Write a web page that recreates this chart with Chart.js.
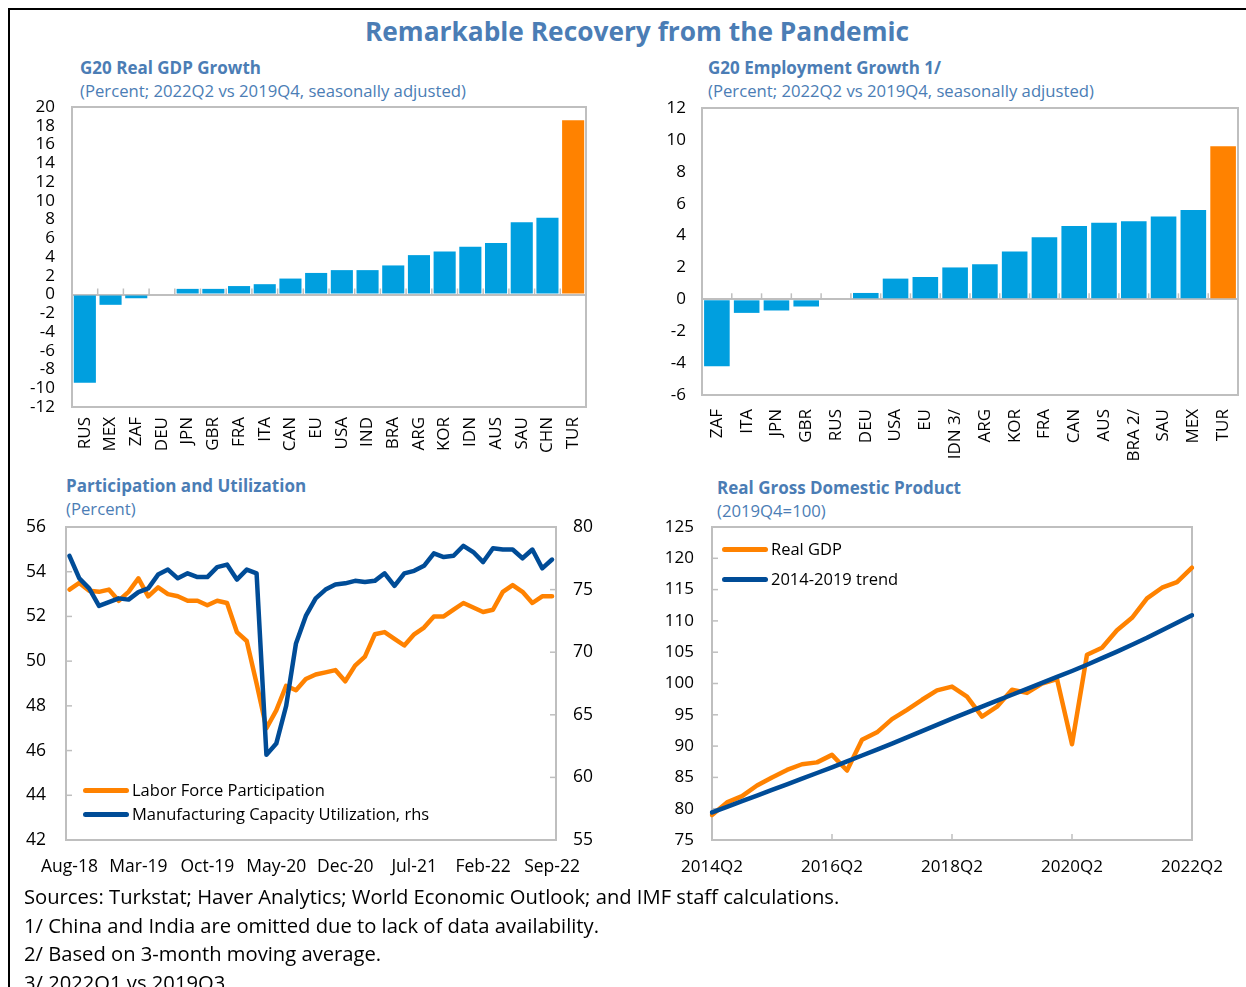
<!DOCTYPE html>
<html>
<head>
<meta charset="utf-8">
<script src="https://cdn.jsdelivr.net/npm/chart.js@4.4.0/dist/chart.umd.min.js"></script>
<style>
  body { margin: 0; width: 1246px; height: 987px; overflow: hidden; background: #fff; position: relative; font-family: "Open Sans", sans-serif; }
  .frame { position: absolute; left: 8px; top: 8px; width: 1270px; height: 1010px; border: 2px solid #000; box-sizing: border-box; }
  .txt { position: absolute; white-space: nowrap; color: #4b7db5; }
  .main { left: 0; width: 1274px; top: 12px; text-align: center; font-size: 26.3px; font-weight: 700; line-height: 38px; }
  .head { font-size: 17px; font-weight: 700; line-height: 22px; }
  .sub { font-size: 16.7px; line-height: 22px; }
  .box { position: absolute; }
  .legend { position: absolute; font-size: 16.5px; color: #000; line-height: 24px; }
  .legend div { display: flex; align-items: center; }
  .legend span.sw { display: inline-block; width: 46px; height: 5px; border-radius: 3px; margin-right: 3px; }
  .notes { position: absolute; left: 24px; top: 882px; font-size: 20.2px; line-height: 28.6px; color: #000; }
</style>
</head>
<body>
<div class="frame"></div>
<div class="txt main">Remarkable Recovery from the Pandemic</div>

<div class="txt head" style="left:80px; top:57px;">G20 Real GDP Growth</div>
<div class="txt sub" style="left:80px; top:80px;">(Percent; 2022Q2 vs 2019Q4, seasonally adjusted)</div>
<div class="txt head" style="left:708px; top:57px;">G20 Employment Growth 1/</div>
<div class="txt sub" style="left:708px; top:80px;">(Percent; 2022Q2 vs 2019Q4, seasonally adjusted)</div>
<div class="txt head" style="left:66px; top:475px;">Participation and Utilization</div>
<div class="txt sub" style="left:66px; top:498px;">(Percent)</div>
<div class="txt head" style="left:717px; top:477px;">Real Gross Domestic Product</div>
<div class="txt sub" style="left:717px; top:500px;">(2019Q4=100)</div>

<div class="box" style="left:20px; top:95px; width:580px; height:370px;"><canvas id="gdpBars"></canvas></div>
<div class="box" style="left:650px; top:95px; width:596px; height:370px;"><canvas id="empBars"></canvas></div>
<div class="box" style="left:10px; top:515px; width:600px; height:370px;"><canvas id="partLines"></canvas></div>
<div class="box" style="left:650px; top:515px; width:596px; height:370px;"><canvas id="gdpLines"></canvas></div>

<div class="legend" style="left:83px; top:778px;">
  <div><span class="sw" style="background:#ff8200"></span>Labor Force Participation</div>
  <div><span class="sw" style="background:#004c97"></span>Manufacturing Capacity Utilization, rhs</div>
</div>
<div class="legend" style="left:722px; top:534px; line-height:30px;">
  <div><span class="sw" style="background:#ff8200"></span>Real GDP</div>
  <div><span class="sw" style="background:#004c97"></span>2014-2019 trend</div>
</div>

<div class="notes">
  Sources: Turkstat; Haver Analytics; World Economic Outlook; and IMF staff calculations.<br>
  1/ China and India are omitted due to lack of data availability.<br>
  2/ Based on 3-month moving average.<br>
  3/ 2022Q1 vs 2019Q3.
</div>

<script>
const BLUE = "#009fdf";
const ORANGE = "#ff8200";
const NAVY = "#004c97";
const FRAME = "#bfbfbf";

// G20 real GDP growth, 2022Q2 vs 2019Q4
const gdpCountries = ["RUS", "MEX", "ZAF", "DEU", "JPN", "GBR", "FRA", "ITA", "CAN", "EU", "USA", "IND", "BRA", "ARG", "KOR", "IDN", "AUS", "SAU", "CHN", "TUR"];
const gdpGrowth = [-9.4, -1.1, -0.4, 0, 0.6, 0.6, 0.9, 1.1, 1.7, 2.3, 2.6, 2.6, 3.1, 4.2, 4.6, 5.1, 5.5, 7.7, 8.2, 18.6];

// G20 employment growth
const empCountries = ["ZAF", "ITA", "JPN", "GBR", "RUS", "DEU", "USA", "EU", "IDN 3/", "ARG", "KOR", "FRA", "CAN", "AUS", "BRA 2/", "SAU", "MEX", "TUR"];
const empGrowth = [-4.2, -0.85, -0.7, -0.45, 0, 0.4, 1.3, 1.4, 2.0, 2.2, 3.0, 3.9, 4.6, 4.8, 4.9, 5.2, 5.6, 9.6];

// monthly, Aug-18 .. Sep-22
const months = [
  "Aug-18", "Sep-18", "Oct-18", "Nov-18", "Dec-18",
  "Jan-19", "Feb-19", "Mar-19", "Apr-19", "May-19", "Jun-19", "Jul-19", "Aug-19", "Sep-19", "Oct-19", "Nov-19", "Dec-19",
  "Jan-20", "Feb-20", "Mar-20", "Apr-20", "May-20", "Jun-20", "Jul-20", "Aug-20", "Sep-20", "Oct-20", "Nov-20", "Dec-20",
  "Jan-21", "Feb-21", "Mar-21", "Apr-21", "May-21", "Jun-21", "Jul-21", "Aug-21", "Sep-21", "Oct-21", "Nov-21", "Dec-21",
  "Jan-22", "Feb-22", "Mar-22", "Apr-22", "May-22", "Jun-22", "Jul-22", "Aug-22", "Sep-22"
];
const laborForce = [53.2, 53.5, 53.15, 53.1, 53.2, 52.7, 53.1, 53.7, 52.9, 53.3, 53.0, 52.9, 52.7, 52.7, 52.5, 52.7, 52.6, 51.3, 50.9, 49.0, 47.0, 47.8, 48.9, 48.7, 49.2, 49.4, 49.5, 49.6, 49.1, 49.8, 50.2, 51.2, 51.3, 51.0, 50.7, 51.2, 51.5, 52.0, 52.0, 52.3, 52.6, 52.4, 52.2, 52.3, 53.1, 53.4, 53.1, 52.6, 52.9, 52.9];
const capacityUtil = [77.7, 75.9, 75.1, 73.7, 74.0, 74.3, 74.2, 74.8, 75.1, 76.2, 76.6, 75.9, 76.3, 76.0, 76.0, 76.8, 77.0, 75.8, 76.6, 76.3, 61.8, 62.7, 65.7, 70.7, 72.9, 74.3, 75.0, 75.4, 75.5, 75.7, 75.6, 75.7, 76.3, 75.3, 76.3, 76.5, 76.9, 77.9, 77.6, 77.7, 78.5, 78.0, 77.2, 78.3, 78.2, 78.2, 77.5, 78.2, 76.7, 77.4];

// quarterly, 2014Q2 .. 2022Q2 (2019Q4 = 100)
const quarters = [
  "2014Q2", "2014Q3", "2014Q4", "2015Q1", "2015Q2", "2015Q3", "2015Q4", "2016Q1", "2016Q2", "2016Q3", "2016Q4",
  "2017Q1", "2017Q2", "2017Q3", "2017Q4", "2018Q1", "2018Q2", "2018Q3", "2018Q4", "2019Q1", "2019Q2", "2019Q3", "2019Q4",
  "2020Q1", "2020Q2", "2020Q3", "2020Q4", "2021Q1", "2021Q2", "2021Q3", "2021Q4", "2022Q1", "2022Q2"
];
const realGdp = [79.0, 81.0, 82.0, 83.7, 85.0, 86.2, 87.1, 87.4, 88.6, 86.1, 91.0, 92.2, 94.3, 95.8, 97.4, 98.9, 99.5, 97.9, 94.7, 96.3, 99.0, 98.5, 100.0, 100.7, 90.3, 104.6, 105.7, 108.5, 110.5, 113.6, 115.3, 116.2, 118.5];
const gdpTrend = [79.4, 80.3, 81.2, 82.1, 83.0, 83.9, 84.8, 85.7, 86.6, 87.55, 88.5, 89.45, 90.4, 91.4, 92.4, 93.4, 94.4, 95.35, 96.3, 97.25, 98.2, 99.15, 100.1, 101.05, 102.0, 103.0, 104.05, 105.1, 106.2, 107.3, 108.5, 109.7, 110.9];

Chart.defaults.font.family = '"Open Sans", sans-serif';
Chart.defaults.font.size = 17;
Chart.defaults.color = "#000";
Chart.defaults.animation = false;

// keep label overhang from pushing the plot area around
const noOverhang = (s) => {
  s.paddingTop = 0;
  s.paddingBottom = 0;
  s.paddingLeft = 0;
  s.paddingRight = 0;
};

// grey box round the plot area, plus the short inward tick marks
const boxFrame = {
  id: "boxFrame",
  beforeDatasetsDraw(chart, args, opts) {
    const { ctx, chartArea: a } = chart;
    ctx.save();
    ctx.strokeStyle = FRAME;
    ctx.lineWidth = 2;
    ctx.strokeRect(a.left, a.top, a.right - a.left, a.bottom - a.top);
    ctx.lineWidth = 1.5;
    (opts.inY || []).forEach((id) => {
      const s = chart.scales[id];
      const x0 = s.position === "left" ? a.left : a.right;
      const dir = s.position === "left" ? 1 : -1;
      s.ticks.forEach((t) => {
        const y = s.getPixelForValue(t.value);
        ctx.beginPath();
        ctx.moveTo(x0, y);
        ctx.lineTo(x0 + dir * 6, y);
        ctx.stroke();
      });
    });
    if (opts.inX) {
      const s = chart.scales.x;
      s.ticks.forEach((t, i) => {
        if (!t.label) return;
        const x = s.getPixelForTick(i);
        ctx.beginPath();
        ctx.moveTo(x, a.bottom);
        ctx.lineTo(x, a.bottom - 6);
        ctx.stroke();
      });
    }
    if (opts.zeroTicks) {
      const y0 = chart.scales.y.getPixelForValue(0);
      const n = chart.data.labels.length;
      const w = (a.right - a.left) / n;
      for (let k = 1; k < n; k++) {
        ctx.beginPath();
        ctx.moveTo(a.left + k * w, y0);
        ctx.lineTo(a.left + k * w, y0 - 6);
        ctx.stroke();
      }
    }
    ctx.restore();
  },
};

const barChart = (id, labels, values, yMin, yMax, yStep, lay) => {
  return new Chart(document.getElementById(id), {
    type: "bar",
    data: {
      labels,
      datasets: [{
        data: values,
        backgroundColor: labels.map((c) => (c === "TUR" ? ORANGE : BLUE)),
        barPercentage: 0.86,
        categoryPercentage: 1,
      }],
    },
    options: {
      responsive: true,
      maintainAspectRatio: false,
      layout: { padding: { top: lay.top, right: lay.right, left: 0, bottom: 0 } },
      plugins: { legend: { display: false }, tooltip: { enabled: false }, boxFrame: { zeroTicks: true } },
      scales: {
        x: {
          grid: { display: false, drawTicks: false },
          border: { display: false },
          ticks: { autoSkip: false, minRotation: 90, maxRotation: 90, padding: lay.xPad, font: { size: 17 } },
          afterFit: (s) => { noOverhang(s); s.height = lay.xH; },
        },
        y: {
          min: yMin,
          max: yMax,
          border: { display: false },
          grid: {
            drawTicks: false,
            lineWidth: 2,
            color: (c) => (c.tick && c.tick.value === 0 ? FRAME : "rgba(0,0,0,0)"),
          },
          ticks: { stepSize: yStep, autoSkip: false, padding: lay.yPad, font: { size: 17 } },
          afterFit: (s) => { noOverhang(s); s.width = lay.yW; },
        },
      },
    },
    plugins: [boxFrame],
  });
};

barChart("gdpBars", gdpCountries, gdpGrowth, -12, 20, 2, { top: 12, right: 14, xH: 58, xPad: 10, yPad: 17, yW: 52 });
barChart("empBars", empCountries, empGrowth, -6, 12, 2, { top: 13, right: 8, xH: 70, xPad: 14, yPad: 16, yW: 52 });

const lineStyle = { borderWidth: 4.5, pointRadius: 0, tension: 0, borderCapStyle: "round", borderJoinStyle: "round", fill: false };

new Chart(document.getElementById("partLines"), {
  type: "line",
  data: {
    datasets: [
      { ...lineStyle, label: "Labor Force Participation", data: laborForce.map((v, i) => ({ x: i, y: v })), borderColor: ORANGE, yAxisID: "y", order: 2 },
      { ...lineStyle, label: "Manufacturing Capacity Utilization, rhs", data: capacityUtil.map((v, i) => ({ x: i, y: v })), borderColor: NAVY, yAxisID: "y1", order: 1 },
    ],
  },
  options: {
    responsive: true,
    maintainAspectRatio: false,
    layout: { padding: { top: 12, right: 0, left: 0, bottom: 0 } },
    plugins: { legend: { display: false }, tooltip: { enabled: false }, boxFrame: { inY: ["y", "y1"] } },
    scales: {
      x: {
        type: "linear",
        min: -0.35,
        max: 49.4,
        grid: { display: false, drawTicks: false },
        border: { display: false },
        afterBuildTicks: (s) => {
          s.ticks = months.map((m, i) => i).filter((i) => i % 7 === 0).map((v) => ({ value: v }));
        },
        ticks: { callback: (v) => months[v], padding: 17, maxRotation: 0, autoSkip: false, font: { size: 17.5 } },
        afterFit: (s) => { noOverhang(s); s.height = 45; },
      },
      y: {
        position: "left",
        min: 42,
        max: 56,
        grid: { display: false, drawTicks: false },
        border: { display: false },
        ticks: { stepSize: 2, padding: 20, font: { size: 17.5 } },
        afterFit: (s) => { noOverhang(s); s.width = 56; },
      },
      y1: {
        position: "right",
        min: 55,
        max: 80,
        grid: { display: false, drawTicks: false },
        border: { display: false },
        ticks: { stepSize: 5, padding: 17, font: { size: 17.5 } },
        afterFit: (s) => { noOverhang(s); s.width = 54; },
      },
    },
  },
  plugins: [boxFrame],
});

new Chart(document.getElementById("gdpLines"), {
  type: "line",
  data: {
    labels: quarters,
    datasets: [
      { ...lineStyle, label: "Real GDP", data: realGdp, borderColor: ORANGE, order: 2 },
      { ...lineStyle, label: "2014-2019 trend", data: gdpTrend, borderColor: NAVY, order: 1 },
    ],
  },
  options: {
    responsive: true,
    maintainAspectRatio: false,
    layout: { padding: { top: 12, right: 54, left: 0, bottom: 0 } },
    plugins: { legend: { display: false }, tooltip: { enabled: false }, boxFrame: { inY: ["y"], inX: true } },
    scales: {
      x: {
        offset: false,
        grid: { display: false, drawTicks: false },
        border: { display: false },
        ticks: {
          autoSkip: false,
          maxRotation: 0,
          padding: 17,
          font: { size: 17 },
          callback: (v, i) => (i % 8 === 0 ? quarters[i] : ""),
        },
        afterFit: (s) => { noOverhang(s); s.height = 45; },
      },
      y: {
        min: 75,
        max: 125,
        grid: { display: false, drawTicks: false },
        border: { display: false },
        ticks: { stepSize: 5, padding: 18, font: { size: 17 } },
        afterFit: (s) => { noOverhang(s); s.width = 62; },
      },
    },
  },
  plugins: [boxFrame],
});
</script>
</body>
</html>
